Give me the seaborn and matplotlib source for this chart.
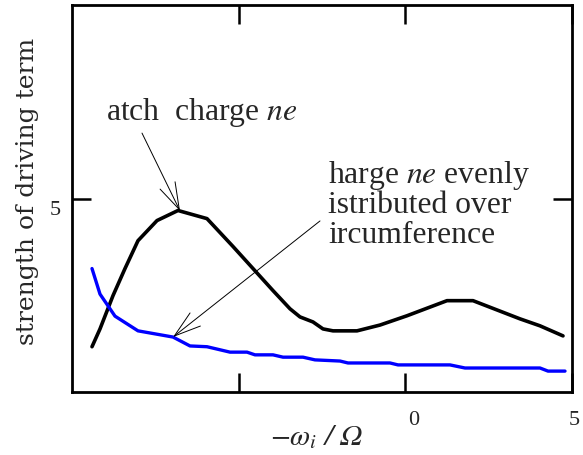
import matplotlib
matplotlib.use("Agg")
import matplotlib.pyplot as plt
import matplotlib.transforms as mtrans
import seaborn as sns
import pandas as pd

# data
x_point = [-9.4, -9.16, -8.77, -8.41, -8.02, -7.45, -6.82, -5.95, -5.17, -4.57,
           -3.97, -3.46, -3.16, -2.77, -2.47, -2.17, -1.45, -0.76, 0.05, 1.25,
           2.03, 3.44, 4.04, 4.73]
y_point = [1.17, 1.63, 2.49, 3.19, 3.91, 4.43, 4.69, 4.48, 3.76, 3.19,
           2.62, 2.15, 1.94, 1.81, 1.63, 1.58, 1.58, 1.73, 1.97, 2.36,
           2.36, 1.89, 1.71, 1.45]
x_ring = [-9.4, -9.16, -8.71, -8.02, -6.97, -6.46, -5.95, -5.26, -4.75, -4.51,
          -3.97, -3.67, -3.07, -2.71, -1.96, -1.72, -0.46, -0.22, 1.34, 1.79,
          4.04, 4.28, 4.79]
y_ring = [3.19, 2.53, 1.96, 1.58, 1.42, 1.19, 1.17, 1.03, 1.03, 0.96,
          0.96, 0.90, 0.90, 0.83, 0.80, 0.75, 0.75, 0.70, 0.70, 0.62,
          0.62, 0.54, 0.54]
x_ticks = [-5, 0, 5]
x_tick_labels = ["", "0", "5"]
y_ticks = [5]
y_tick_labels = ["5"]
label_point = 'atch  charge $\\mathit{ne}$'
label_ring = ['harge $\\mathit{ne}$ evenly', 'istributed over', 'ircumference']

sns.set_style("ticks")
plt.rcParams['font.family'] = ['Liberation Serif', 'DejaVu Serif']
plt.rcParams['mathtext.fontset'] = 'stix'

fig = plt.figure(figsize=(5.83, 4.56), dpi=100)
ax = fig.add_axes([72/583, 63/456, 500/583, 387/456])

df1 = pd.DataFrame({"x": x_point, "y": y_point})
df2 = pd.DataFrame({"x": x_ring, "y": y_ring})
sns.lineplot(data=df1, x="x", y="y", ax=ax, color="black", lw=2.6, sort=False)
sns.lineplot(data=df2, x="x", y="y", ax=ax, color="#0000ff", lw=2.4, sort=False)

ax.set_xlim(-10, 5)
ax.set_ylim(0, 10)
ax.set_xticks(x_ticks)
ax.set_xticklabels(x_tick_labels, fontsize=16)
ax.set_yticks(y_ticks)
ax.set_yticklabels(y_tick_labels, fontsize=16)
ax.tick_params(direction='in', length=14, width=1.8, top=True, right=True,
               color='black')
ax.tick_params(axis='x', pad=13)
ax.tick_params(axis='y', pad=8)
for s in ax.spines.values():
    s.set_linewidth(2.0)
    s.set_color('black')

# shift tick labels slightly like the reference
xl = ax.get_xticklabels()
xl[1].set_transform(xl[1].get_transform() + mtrans.ScaledTranslation(8/100, 0, fig.dpi_scale_trans))
xl[2].set_transform(xl[2].get_transform() + mtrans.ScaledTranslation(2/100, 0, fig.dpi_scale_trans))
for lab in ax.get_yticklabels():
    lab.set_transform(lab.get_transform() + mtrans.ScaledTranslation(0, -9/100, fig.dpi_scale_trans))

ax.set_xlabel(r'$-\omega_i$ / Ω', fontsize=21, family=['STIXGeneral'], style='italic')
ax.xaxis.set_label_coords(0.49, -0.078)
ax.set_ylabel('strength of driving term', fontsize=18, family=['DejaVu Serif'])
ax.yaxis.set_label_coords(-0.066, 0.52)

arrow_kw = dict(arrowstyle='->,head_length=0.8,head_width=0.25', lw=0.7,
                color='black', shrinkA=0, shrinkB=0, mutation_scale=24)
ax.text(-8.98, 7.05, label_point, fontsize=22.8, ha='left', va='baseline')
ax.annotate('', xy=(-6.76, 4.68), xytext=(-7.9, 6.69), arrowprops=arrow_kw)
ax.annotate('', xy=(-6.97, 1.42), xytext=(-2.56, 4.42), arrowprops=arrow_kw)
for i, line in enumerate(label_ring):
    ax.text(-2.32, 5.43 - i * 0.775, line, fontsize=22.8, ha='left', va='baseline')

fig.savefig('out.png', dpi=100)
